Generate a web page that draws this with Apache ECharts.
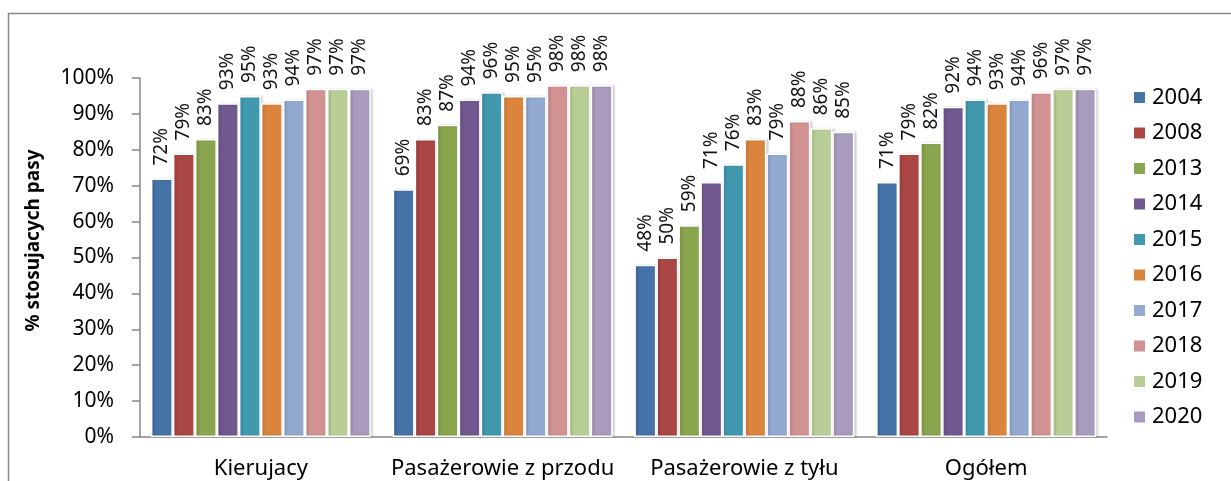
<!DOCTYPE html>
<html>
<head>
<meta charset="utf-8">
<script src="https://cdn.jsdelivr.net/npm/echarts@6/dist/echarts.min.js"></script>
<style>
    html, body { margin: 0; padding: 0; background: #fff; overflow: hidden; }
    #chart { width: 1231px; height: 481px; }
</style>
</head>
<body>
<div id="chart"></div>
<script>
    // kategorie i lata
    var categories = ['Kierujacy', 'Pasażerowie z przodu', 'Pasażerowie z tyłu', 'Ogółem'];
    var years = ['2004', '2008', '2013', '2014', '2015', '2016', '2017', '2018', '2019', '2020'];
    var colors = ['#4572A7', '#AA4643', '#89A54E', '#71588F', '#4198AF', '#DB843D', '#93A9CF', '#D19392', '#B9CD96', '#A99BBD'];

    // % stosujacych pasy, po jednej tablicy na rok (Kierujacy, z przodu, z tyłu, Ogółem)
    var v2004 = [72, 69, 48, 71];
    var v2008 = [79, 83, 50, 79];
    var v2013 = [83, 87, 59, 82];
    var v2014 = [93, 94, 71, 92];
    var v2015 = [95, 96, 76, 94];
    var v2016 = [93, 95, 83, 93];
    var v2017 = [94, 95, 79, 94];
    var v2018 = [97, 98, 88, 96];
    var v2019 = [97, 98, 86, 97];
    var v2020 = [97, 98, 85, 97];
    var values = [v2004, v2008, v2013, v2014, v2015, v2016, v2017, v2018, v2019, v2020];

    var font = '"Noto Sans", "Open Sans", sans-serif';
    var chart = echarts.init(document.getElementById('chart'));

    var series = years.map(function (y, i) {
        return {
            name: y,
            type: 'bar',
            data: values[i],
            barGap: '0%',
            barCategoryGap: '9%',
            itemStyle: {
                color: colors[i],
                borderColor: '#fff',
                borderWidth: 1.5,
                shadowBlur: 2,
                shadowOffsetX: 2,
                shadowOffsetY: 0,
                shadowColor: 'rgba(0,0,0,0.15)'
            },
            label: {
                show: true,
                position: 'top',
                rotate: 90,
                align: 'left',
                verticalAlign: 'middle',
                distance: 13,
                formatter: '{c}%',
                fontFamily: font,
                fontSize: 19,
                color: '#111'
            },
            emphasis: { disabled: true }
        };
    });

    var theOptions = {
        animation: false,
        textStyle: { fontFamily: font },
        grid: { left: 140, right: 124, top: 78, bottom: 44 },
        graphic: [{
            type: 'rect',
            shape: { x: 8.5, y: 13.5, width: 1400, height: 700 },
            style: { fill: 'none', stroke: '#888', lineWidth: 1.5 },
            silent: true
        }],
        legend: {
            orient: 'vertical',
            left: 1127,
            top: 81,
            itemWidth: 13,
            itemHeight: 13,
            itemGap: 12.5,
            icon: 'rect',
            textStyle: { fontFamily: font, fontSize: 22, lineHeight: 23, color: '#000', padding: [0, 0, 0, 1] },
            data: years
        },
        xAxis: {
            type: 'category',
            data: categories,
            axisLine: { lineStyle: { color: '#868686', width: 1.5 } },
            axisTick: { length: 8, lineStyle: { color: '#868686', width: 1.5 } },
            axisLabel: { interval: 0, fontFamily: font, fontSize: 22, color: '#000', margin: 21 }
        },
        yAxis: {
            type: 'value',
            min: 0,
            max: 100,
            interval: 10,
            name: '% stosujacych pasy',
            nameLocation: 'middle',
            nameGap: 97,
            nameTextStyle: { fontFamily: font, fontSize: 19, fontWeight: 'bold', color: '#000', padding: [0, 0, 0, 34] },
            axisLine: { show: true, lineStyle: { color: '#868686', width: 1.5 } },
            axisTick: { show: true, length: 8, lineStyle: { color: '#868686', width: 1.5 } },
            splitLine: { show: false },
            axisLabel: { formatter: '{value}%', fontFamily: font, fontSize: 21, color: '#000', margin: 26 }
        },
        series: series
    };
    chart.setOption(theOptions);
</script>
</body>
</html>
